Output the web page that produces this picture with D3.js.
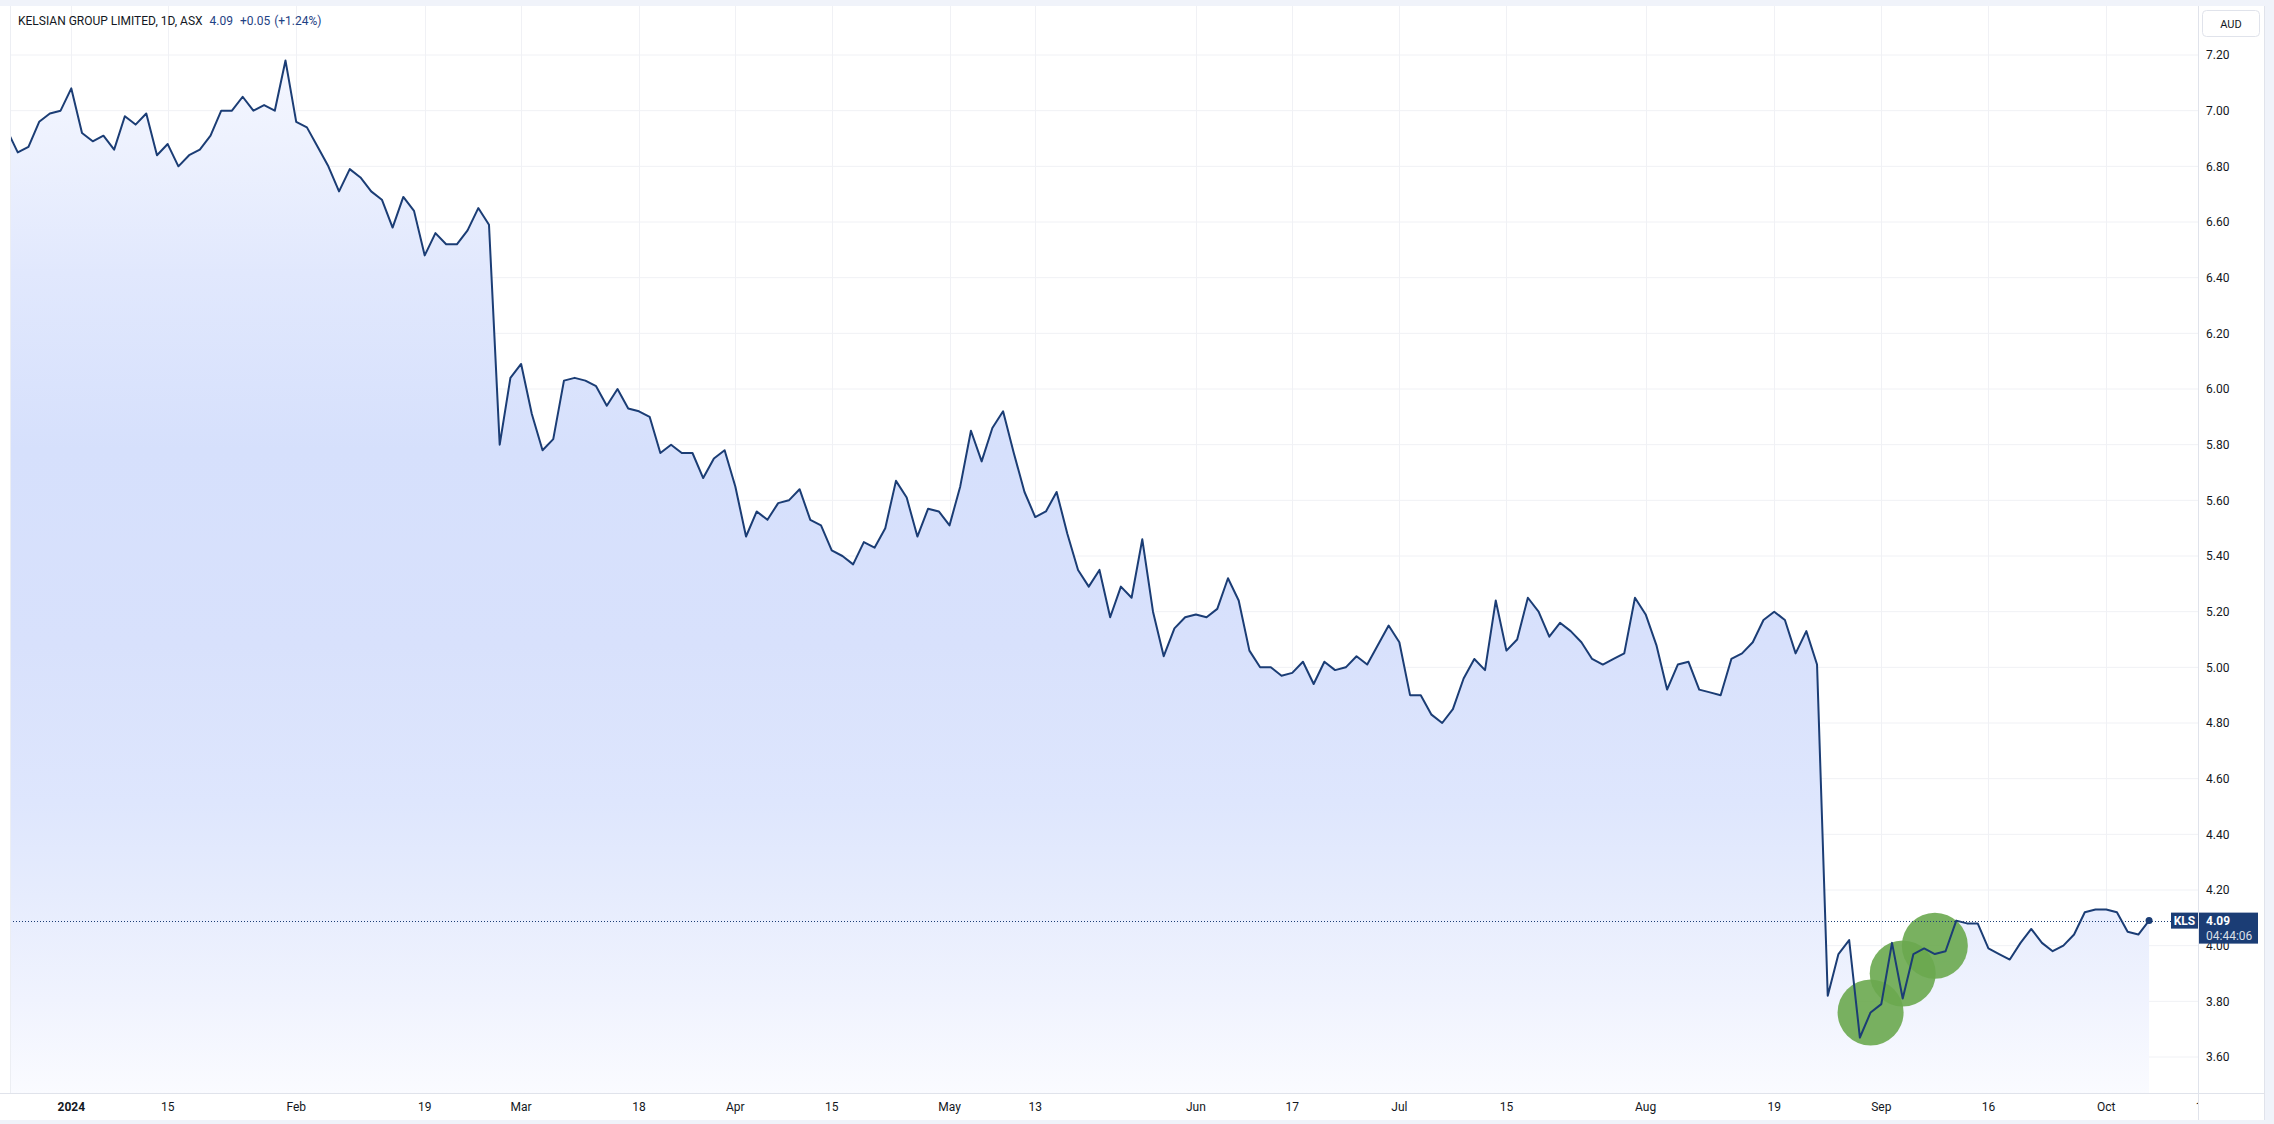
<!DOCTYPE html>
<html><head><meta charset="utf-8">
<script src="https://cdn.jsdelivr.net/npm/d3@7"></script>
<style>html,body{margin:0;padding:0;background:#fff;} svg{display:block;}</style>
</head><body>
<script>
// ---------- data ----------
const title = "KELSIAN GROUP LIMITED, 1D, ASX";
const lastPriceText = "4.09";
const changeText = "+0.05";
const changePctText = "(+1.24%)";
const ticker = "KLS";
const countdown = "04:44:06";
const currency = "AUD";
const lastPrice = 4.09;

const holidays = ["2023-12-25","2023-12-26","2024-01-01","2024-01-26","2024-03-29","2024-04-01","2024-04-25","2024-06-10"];
const startDate = "2023-12-20";
const endDate = "2024-10-14";

// daily closes, one per trading day from startDate
const prices = [
 6.93,6.85,6.87,6.96,6.99,7.00,
 7.08,6.92,6.89,6.91,6.86,6.98,6.95,6.99,6.84,6.88,
 6.80,6.84,6.86,6.91,7.00,7.00,7.05,7.00,7.02,7.00,
 7.18,6.96,6.94,6.87,6.80,6.71,6.79,6.76,6.71,6.68,
 6.58,6.69,6.64,6.48,6.56,6.52,6.52,6.57,6.65,6.59,
 5.80,6.04,6.09,5.91,5.78,5.82,6.03,6.04,6.03,6.01,
 5.94,6.00,5.93,5.92,5.90,5.77,5.80,5.77,5.77,5.68,
 5.75,5.78,5.65,5.47,5.56,5.53,5.59,5.60,5.64,5.53,
 5.51,5.42,5.40,5.37,5.45,5.43,5.50,5.67,5.61,5.47,
 5.57,5.56,5.51,5.65,5.85,5.74,5.86,5.92,5.77,5.63,
 5.54,5.56,5.63,5.48,5.35,5.29,5.35,5.18,5.29,5.25,
 5.46,5.20,5.04,5.14,5.18,5.19,5.18,5.21,5.32,5.24,
 5.06,5.00,5.00,4.97,4.98,5.02,4.94,5.02,4.99,5.00,
 5.04,5.01,5.08,5.15,5.09,4.90,4.90,4.83,4.80,4.85,
 4.96,5.03,4.99,5.24,5.06,5.10,5.25,5.20,5.11,5.16,
 5.13,5.09,5.03,5.01,5.03,5.05,5.25,5.19,5.08,4.92,
 5.01,5.02,4.92,4.91,4.90,5.03,5.05,5.09,5.17,5.20,
 5.17,5.05,5.13,5.01,3.82,3.97,4.02,3.67,3.76,3.79,
 4.01,3.81,3.97,3.99,3.97,3.98,4.09,4.08,4.08,3.99,
 3.97,3.95,4.01,4.06,4.01,3.98,4.00,4.04,4.12,4.13,
 4.13,4.12,4.05,4.04,4.09
];

const tickDates = ["2024-01-02","2024-01-15","2024-02-01","2024-02-19","2024-03-01","2024-03-18","2024-04-02","2024-04-15","2024-05-01","2024-05-13","2024-06-03","2024-06-17","2024-07-01","2024-07-15","2024-08-01","2024-08-19","2024-09-02","2024-09-16","2024-10-01","2024-10-14"];
const tickLabels = ["2024","15","Feb","19","Mar","18","Apr","15","May","13","Jun","17","Jul","15","Aug","19","Sep","16","Oct","14"];
const yTicks = [3.6,3.8,4.0,4.2,4.4,4.6,4.8,5.0,5.2,5.4,5.6,5.8,6.0,6.2,6.4,6.6,6.8,7.0,7.2];

const markerDates = ["2024-08-30","2024-09-04","2024-09-09"];
const markerValues = [3.76, 3.90, 4.00];

// ---------- layout ----------
const W = 2274, H = 1124;
const paneL = 10, paneR = 2198, paneT = 6, paneB = 1093, outerR = 2264, outerB = 1120;

const parse = d3.utcParse("%Y-%m-%d"), fmt = d3.utcFormat("%Y-%m-%d");
const days = d3.utcDays(parse(startDate), d3.utcDay.offset(parse(endDate), 1))
  .filter(d => d.getUTCDay() !== 0 && d.getUTCDay() !== 6 && !holidays.includes(fmt(d)));
const dayIndex = new Map(days.map((d, i) => [fmt(d), i]));
const series = prices.map((p, i) => ({i, p}));

const x = d3.scaleLinear().domain([dayIndex.get("2024-01-02"), dayIndex.get("2024-10-14")]).range([71.3, 2202.6]);
const y = d3.scaleLinear().domain([3.6, 7.2]).range([1057, 55]);

const svg = d3.select("body").append("svg").attr("width", W).attr("height", H);
const font = "Roboto, 'Open Sans', sans-serif";

svg.append("rect").attr("width", W).attr("height", H).attr("fill", "#f0f3fa");
svg.append("rect").attr("x", 0).attr("y", paneT).attr("width", outerR).attr("height", outerB - paneT).attr("fill", "#fff");

const defs = svg.append("defs");
defs.append("clipPath").attr("id", "pane").append("rect")
  .attr("x", paneL).attr("y", paneT).attr("width", paneR - paneL).attr("height", paneB - paneT);
const grad = defs.append("linearGradient").attr("id", "fillGrad")
  .attr("gradientUnits", "userSpaceOnUse").attr("x1", 0).attr("x2", 0).attr("y1", 55).attr("y2", paneB);
[[0, "#f5f7ff"], [0.08, "#eef2fe"], [0.21, "#e1e8fd"], [0.38, "#d6e0fc"], [0.57, "#d8e1fc"],
 [0.72, "#dee6fd"], [0.81, "#e6ecfd"], [0.91, "#f0f3fe"], [1, "#fafbff"]]
  .forEach(([o, c]) => grad.append("stop").attr("offset", o).attr("stop-color", c));

const pane = svg.append("g").attr("clip-path", "url(#pane)");

// grid
pane.selectAll(".hg").data(yTicks).join("line")
  .attr("x1", paneL).attr("x2", paneR).attr("y1", d => y(d)).attr("y2", d => y(d))
  .attr("stroke", "#f0f1f5").attr("stroke-width", 1);
pane.selectAll(".vg").data(tickDates).join("line")
  .attr("x1", d => Math.round(x(dayIndex.get(d))) + 0.5).attr("x2", d => Math.round(x(dayIndex.get(d))) + 0.5)
  .attr("y1", paneT).attr("y2", paneB)
  .attr("stroke", "#f0f1f5").attr("stroke-width", 1);

// area + line
const area = d3.area().x(d => x(d.i)).y0(paneB).y1(d => y(d.p));
const line = d3.line().x(d => x(d.i)).y(d => y(d.p));
pane.append("path").datum(series).attr("d", area).attr("fill", "url(#fillGrad)");

// green markers
pane.selectAll(".mk").data(markerDates).join("circle")
  .attr("cx", (d) => x(dayIndex.get(d))).attr("cy", (d, k) => y(markerValues[k])).attr("r", 33)
  .attr("fill", "#6aa84f").attr("fill-opacity", 0.9);

pane.append("path").datum(series).attr("d", line).attr("fill", "none")
  .attr("stroke", "#1b3d75").attr("stroke-width", 2).attr("stroke-linejoin", "round");

// last price dotted line
pane.append("line").attr("x1", paneL).attr("x2", paneR)
  .attr("y1", Math.round(y(lastPrice)) + 0.5).attr("y2", Math.round(y(lastPrice)) + 0.5)
  .attr("stroke", "#1b3d75").attr("stroke-width", 1).attr("stroke-dasharray", "1,2");
const last = series[series.length - 1];
pane.append("circle").attr("cx", x(last.i)).attr("cy", y(last.p)).attr("r", 3.5).attr("fill", "#1b3d75");

// pane left border
svg.append("line").attr("x1", paneL + 0.5).attr("x2", paneL + 0.5).attr("y1", paneT).attr("y2", paneB)
  .attr("stroke", "#eceef3");

// header
const hdr = svg.append("text").attr("x", 18).attr("y", 25).attr("font-family", font).attr("font-size", 12).attr("fill", "#131722");
hdr.append("tspan").text(title);
hdr.append("tspan").attr("dx", 7).attr("fill", "#1e4284").text(lastPriceText);
hdr.append("tspan").attr("dx", 7).attr("fill", "#1e4284").text(changeText);
hdr.append("tspan").attr("dx", 4).attr("fill", "#1e4284").text(changePctText);

// x axis labels (clipped at right axis)
defs.append("clipPath").attr("id", "xclip").append("rect").attr("x", 0).attr("y", paneB).attr("width", paneR).attr("height", 40);
svg.append("line").attr("x1", 0).attr("x2", outerR).attr("y1", paneB + 0.5).attr("y2", paneB + 0.5).attr("stroke", "#e0e3eb");
svg.append("g").attr("clip-path", "url(#xclip)").selectAll("text").data(tickDates).join("text")
  .attr("x", d => x(dayIndex.get(d))).attr("y", 1111)
  .attr("text-anchor", "middle").attr("font-family", font).attr("font-size", 12)
  .attr("font-weight", (d, k) => tickLabels[k] === "2024" ? "bold" : "normal")
  .attr("fill", "#131722").text((d, k) => tickLabels[k]);

// right axis
svg.append("line").attr("x1", paneR + 0.5).attr("x2", paneR + 0.5).attr("y1", paneT).attr("y2", outerB).attr("stroke", "#e0e3eb");
svg.append("line").attr("x1", outerR + 0.5).attr("x2", outerR + 0.5).attr("y1", paneT).attr("y2", outerB).attr("stroke", "#e0e3eb");
svg.append("g").selectAll("text").data(yTicks).join("text")
  .attr("x", 2206).attr("y", d => y(d)).attr("dy", "0.35em")
  .attr("font-family", font).attr("font-size", 12).attr("fill", "#131722")
  .text(d => d3.format(".2f")(d));

svg.append("rect").attr("x", 2202.5).attr("y", 10.5).attr("width", 57).attr("height", 26).attr("rx", 4)
  .attr("fill", "#fff").attr("stroke", "#e0e3eb");
svg.append("text").attr("x", 2231).attr("y", 24).attr("dy", "0.35em").attr("text-anchor", "middle")
  .attr("font-family", font).attr("font-size", 11).attr("fill", "#131722").text(currency);

// price labels
const ly = y(lastPrice);
svg.append("rect").attr("x", 2171).attr("y", ly - 8).attr("width", paneR - 2171).attr("height", 16).attr("fill", "#1b3d75");
svg.append("text").attr("x", (2171 + paneR) / 2).attr("y", ly).attr("dy", "0.35em").attr("text-anchor", "middle")
  .attr("font-family", font).attr("font-size", 12).attr("font-weight", "bold").attr("fill", "#fff").text(ticker);
svg.append("rect").attr("x", paneR + 1).attr("y", ly - 8).attr("width", 59).attr("height", 31).attr("fill", "#1b3d75");
svg.append("text").attr("x", 2206).attr("y", ly).attr("dy", "0.35em")
  .attr("font-family", font).attr("font-size", 12).attr("font-weight", "bold").attr("fill", "#fff").text(lastPriceText);
svg.append("text").attr("x", 2206).attr("y", ly + 15).attr("dy", "0.35em")
  .attr("font-family", font).attr("font-size", 12).attr("fill", "#fff").attr("fill-opacity", 0.85).text(countdown);
</script>
</body></html>
